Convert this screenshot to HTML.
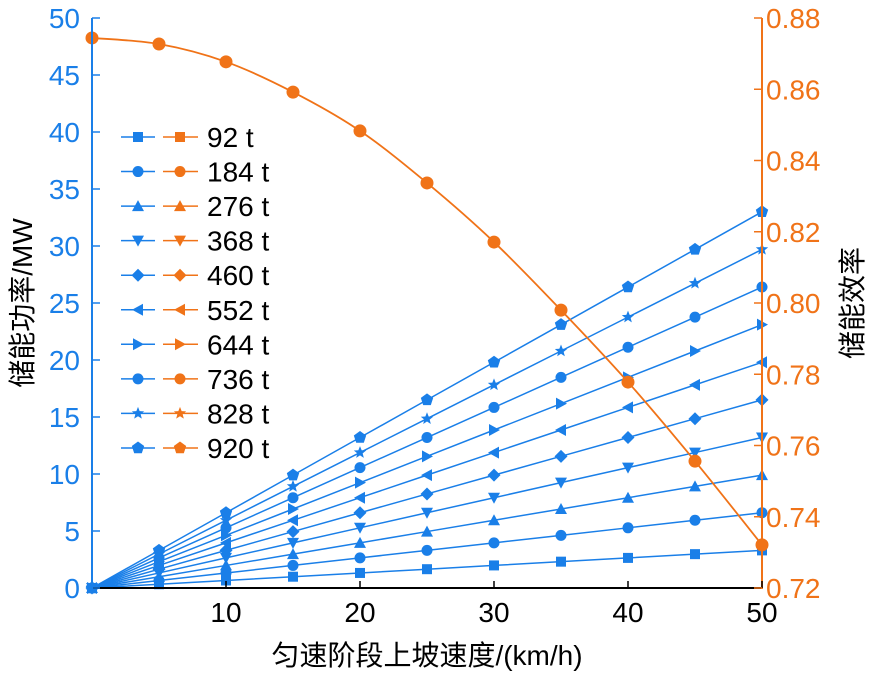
<!DOCTYPE html>
<html><head><meta charset="utf-8"><style>
body{margin:0;background:#fff}
svg text{font-family:"Liberation Sans","Noto Sans CJK SC",sans-serif}
</style></head><body>
<svg id="c" width="876" height="675" xmlns="http://www.w3.org/2000/svg"></svg>
<script>
const speeds=[0,5,10,15,20,25,30,35,40,45,50];
const seriesLabels=['92 t','184 t','276 t','368 t','460 t','552 t','644 t','736 t','828 t',' 920 t'];
const s92=[0,0.33,0.66,0.99,1.32,1.65,1.98,2.31,2.64,2.97,3.3];
const s184=[0,0.66,1.32,1.98,2.64,3.3,3.96,4.62,5.28,5.94,6.6];
const s276=[0,0.99,1.98,2.97,3.96,4.95,5.94,6.93,7.92,8.91,9.9];
const s368=[0,1.32,2.64,3.96,5.28,6.6,7.92,9.24,10.56,11.88,13.2];
const s460=[0,1.65,3.3,4.95,6.6,8.25,9.9,11.55,13.2,14.85,16.5];
const s552=[0,1.98,3.96,5.94,7.92,9.9,11.88,13.86,15.84,17.82,19.8];
const s644=[0,2.31,4.62,6.93,9.24,11.55,13.86,16.17,18.48,20.79,23.1];
const s736=[0,2.64,5.28,7.92,10.56,13.2,15.84,18.48,21.12,23.76,26.4];
const s828=[0,2.97,5.94,8.91,11.88,14.85,17.82,20.79,23.76,26.73,29.7];
const s920=[0,3.3,6.6,9.9,13.2,16.5,19.8,23.1,26.4,29.7,33.0];
const efficiency=[0.8744,0.8727,0.8677,0.8592,0.8483,0.8337,0.8171,0.798,0.7778,0.7556,0.7321];
const xTicks=[10,20,30,40,50];
const yTicks=[0,5,10,15,20,25,30,35,40,45,50];
const y2Ticks=[0.72,0.74,0.76,0.78,0.80,0.82,0.84,0.86,0.88];
const powerSeries=[s92,s184,s276,s368,s460,s552,s644,s736,s828,s920];
const shapes=['square','circle','up','down','diamond','left','right','circle','star','pent'];

const BLUE='#1a7fe8',OR='#f07318';
const X0=92,X1=762,Y0=588,Y1=18;
const xs=v=>X0+(v-0)/50*(X1-X0);
const ys=v=>Y0-v/50*(Y0-Y1);
const ys2=v=>Y0-(v-0.72)/0.16*(Y0-Y1);
const svg=document.getElementById('c');
const NS='http://www.w3.org/2000/svg';
function el(t,a,p){const e=document.createElementNS(NS,t);for(const k in a)e.setAttribute(k,a[k]);(p||svg).appendChild(e);return e;}
function marker(shape,x,y,col,g){
  let e,r=5.5;
  if(shape==='square')e=el('rect',{x:x-5,y:y-5,width:10,height:10,fill:col},g);
  else if(shape==='circle')e=el('circle',{cx:x,cy:y,r:r,fill:col},g);
  else{
    let pts;
    if(shape==='up')pts=[[0,-6],[6,5],[-6,5]];
    else if(shape==='down')pts=[[0,6],[6,-5],[-6,-5]];
    else if(shape==='left')pts=[[-6,0],[5,-6],[5,6]];
    else if(shape==='right')pts=[[6,0],[-5,-6],[-5,6]];
    else if(shape==='diamond')pts=[[0,-6.5],[6.5,0],[0,6.5],[-6.5,0]];
    else if(shape==='pent'){pts=[];for(let i=0;i<5;i++){const a=-Math.PI/2+i*2*Math.PI/5;pts.push([6.5*Math.cos(a),6.5*Math.sin(a)]);}}
    else {pts=[];for(let i=0;i<10;i++){const a=-Math.PI/2+i*Math.PI/5,rr=i%2?2.8:6.5;pts.push([rr*Math.cos(a),rr*Math.sin(a)]);}}
    e=el('polygon',{points:pts.map(p=>(x+p[0])+','+(y+p[1])).join(' '),fill:col},g);
  }
  return e;
}
powerSeries.forEach((s,i)=>{
  const g=el('g',{});
  
  
  el('polyline',{points:s.map((v,j)=>xs(speeds[j])+','+ys(v)).join(' '),fill:'none',stroke:BLUE,'stroke-width':1.5},g);
  s.forEach((v,j)=>marker(shapes[i],xs(speeds[j]),ys(v),BLUE,g));
});
{
  const g=el('g',{});
  
  
  const P=efficiency.map((v,j)=>[xs(speeds[j]),ys2(v)]);
  let d='M'+P[0][0]+','+P[0][1];
  for(let i=0;i<P.length-1;i++){
    const p0=P[Math.max(0,i-1)],p1=P[i],p2=P[i+1],p3=P[Math.min(P.length-1,i+2)];
    d+=` C${p1[0]+(p2[0]-p0[0])/6},${p1[1]+(p2[1]-p0[1])/6} ${p2[0]-(p3[0]-p1[0])/6},${p2[1]-(p3[1]-p1[1])/6} ${p2[0]},${p2[1]}`;
  }
  el('path',{d:d,fill:'none',stroke:OR,'stroke-width':1.8},g);
  P.forEach(p=>el('circle',{cx:p[0],cy:p[1],r:6.5,fill:OR},g));
}
const ax=el('g',{});


el('line',{x1:X0,y1:Y0,x2:X1,y2:Y0,stroke:'#000','stroke-width':2},ax);
el('line',{x1:X0,y1:Y0+1,x2:X0,y2:Y1,stroke:BLUE,'stroke-width':2},ax);
el('line',{x1:X1,y1:Y0+1,x2:X1,y2:Y1,stroke:OR,'stroke-width':2},ax);
xTicks.forEach(t=>{
  el('line',{x1:xs(t),y1:Y0,x2:xs(t),y2:Y0-7,stroke:'#000','stroke-width':1.5},ax);
  const tx=el('text',{x:xs(t),y:622,'text-anchor':'middle','font-size':28,fill:'#000'},ax);tx.textContent=t;
});
yTicks.forEach(t=>{
  el('line',{x1:X0,y1:ys(t),x2:X0+8,y2:ys(t),stroke:BLUE,'stroke-width':1.5},ax);
  const tx=el('text',{x:80,y:ys(t)+10,'text-anchor':'end','font-size':28,fill:BLUE},ax);tx.textContent=t;
});
y2Ticks.forEach(t=>{
  el('line',{x1:X1,y1:ys2(t),x2:X1-8,y2:ys2(t),stroke:OR,'stroke-width':1.5},ax);
  const tx=el('text',{x:766,y:ys2(t)+10,'font-size':28,fill:OR},ax);tx.textContent=t.toFixed(2);
});
const xl=el('text',{x:427,y:665,'text-anchor':'middle','font-size':28,fill:'#000'});


xl.textContent='匀速阶段上坡速度/(km/h)';
const yl=el('text',{x:0,y:0,'text-anchor':'middle','font-size':28,fill:'#000',transform:'translate(32,303) rotate(-90)'});


yl.textContent='储能功率/MW';
const y2l=el('text',{x:0,y:0,'text-anchor':'middle','font-size':28,fill:'#000',transform:'translate(862,303) rotate(-90)'});


y2l.textContent='储能效率';
seriesLabels.forEach((lab,i)=>{
  const y=137+i*34.55;
  const g=el('g',{});
  
  
  el('line',{x1:121,y1:y,x2:155,y2:y,stroke:BLUE,'stroke-width':1.5},g);
  marker(shapes[i],138,y,BLUE,g);
  el('line',{x1:163,y1:y,x2:198,y2:y,stroke:OR,'stroke-width':1.5},g);
  marker(shapes[i],180,y,OR,g);
  const t=el('text',{x:207,y:y+10,'font-size':28,fill:'#000','xml:space':'preserve'},g);t.textContent=lab;
});
</script>
</body></html>
